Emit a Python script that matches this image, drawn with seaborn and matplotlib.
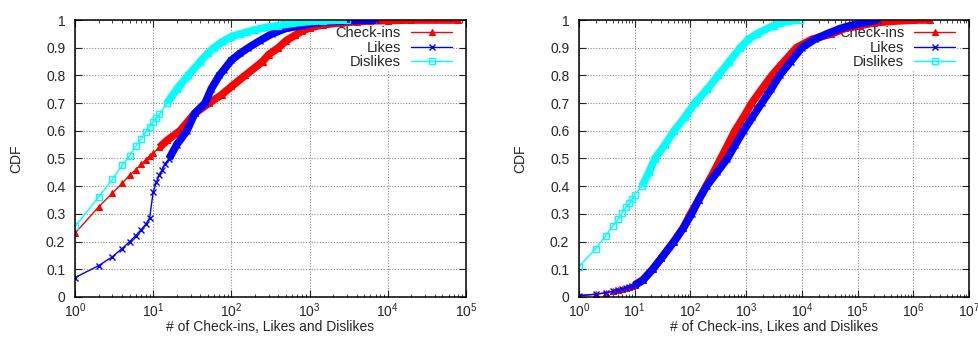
import numpy as np
import pandas as pd
import seaborn as sns
import matplotlib
matplotlib.use("Agg")
import matplotlib.pyplot as plt
from matplotlib.ticker import LogLocator, FuncFormatter, MultipleLocator, NullFormatter
from matplotlib.lines import Line2D

# valores (CDF por numero de check-ins / likes / dislikes)
series_names = ["Check-ins", "Likes", "Dislikes"]

# painel da esquerda
left_checkins_x = [1, 2, 3, 4, 5, 6, 7, 8, 9, 10, 12, 15, 22, 34, 52, 75, 100, 150, 250, 300, 400, 500, 650,
                   800, 1000, 1500, 2500, 4000, 6000, 10000, 20000, 80000]
left_checkins_y = [0.23, 0.325, 0.375, 0.41, 0.44, 0.46, 0.48, 0.495, 0.51, 0.52, 0.54, 0.565, 0.60, 0.663, 0.70,
                   0.73, 0.76, 0.80, 0.85, 0.875, 0.90, 0.925, 0.945, 0.96, 0.972, 0.983, 0.99, 0.994, 0.997,
                   0.998, 1.0, 1.0]
left_likes_x = [1, 2, 3, 4, 5, 6, 7, 8, 9, 10, 11, 12, 13, 14, 16, 20, 27, 34, 46, 55, 70, 80, 100, 130, 165,
                230, 330, 500, 800, 1200, 2000, 3500, 7000]
left_likes_y = [0.07, 0.113, 0.145, 0.175, 0.20, 0.222, 0.243, 0.262, 0.285, 0.38, 0.415, 0.44, 0.46, 0.48, 0.50,
                0.55, 0.60, 0.663, 0.70, 0.75, 0.80, 0.82, 0.855, 0.88, 0.90, 0.925, 0.95, 0.97, 0.98, 0.99,
                0.995, 0.998, 1.0]
left_dislikes_x = [1, 2, 3, 4, 5, 6, 7, 8, 9, 10, 11, 12, 15, 20, 28, 40, 50, 60, 75, 100, 130, 160, 200, 280,
                   400, 600, 1000, 1500, 3000]
left_dislikes_y = [0.255, 0.36, 0.425, 0.475, 0.51, 0.545, 0.57, 0.595, 0.615, 0.632, 0.648, 0.66, 0.70, 0.75,
                   0.80, 0.85, 0.88, 0.90, 0.92, 0.94, 0.95, 0.957, 0.965, 0.973, 0.98, 0.988, 0.995, 0.997, 1.0]

# painel da direita
right_checkins_x = [1, 2, 3, 4, 5, 6, 7, 8, 9, 10, 14, 21, 30, 50, 75, 100, 140, 190, 260, 350, 470, 630, 900,
                    1260, 1900, 2900, 4800, 8000, 15000, 34000, 60000, 110000, 200000, 400000, 1000000, 2000000]
right_checkins_y = [0.005, 0.01, 0.016, 0.021, 0.026, 0.03, 0.034, 0.037, 0.041, 0.044, 0.062, 0.10, 0.14, 0.20,
                    0.25, 0.30, 0.35, 0.40, 0.45, 0.50, 0.55, 0.60, 0.65, 0.70, 0.75, 0.80, 0.85, 0.90, 0.93,
                    0.95, 0.97, 0.98, 0.99, 0.995, 1.0, 1.0]
right_likes_x = [1, 2, 3, 4, 5, 6, 7, 8, 9, 10, 14, 21, 30, 51, 75, 105, 140, 195, 300, 460, 640, 900, 1300,
                 1900, 2800, 4000, 6300, 10000, 17000, 28000, 50000, 74000, 130000, 230000]
right_likes_y = [0.005, 0.01, 0.015, 0.02, 0.025, 0.029, 0.033, 0.036, 0.039, 0.042, 0.06, 0.10, 0.14, 0.20,
                 0.25, 0.30, 0.35, 0.40, 0.45, 0.50, 0.55, 0.60, 0.65, 0.70, 0.75, 0.80, 0.85, 0.90, 0.93,
                 0.95, 0.97, 0.98, 0.99, 1.0]
right_dislikes_x = [1, 2, 3, 4, 5, 6, 7, 8, 9, 10, 13.5, 18, 23, 35, 51, 80, 120, 200, 315, 500, 780, 1100,
                    1550, 3100, 5500, 9300]
right_dislikes_y = [0.11, 0.175, 0.22, 0.255, 0.28, 0.305, 0.325, 0.34, 0.355, 0.37, 0.40, 0.45, 0.50, 0.55,
                    0.60, 0.65, 0.70, 0.75, 0.80, 0.85, 0.90, 0.93, 0.95, 0.98, 0.995, 1.0]

left_xmax = 1e5
right_xmax = 1e7


def monta_df(cx, cy, lx, ly, dx, dy):
    partes = []
    for nome, xs, ys in zip(series_names, [cx, lx, dx], [cy, ly, dy]):
        partes.append(pd.DataFrame({"count": xs, "cdf": ys, "serie": nome}))
    return pd.concat(partes, ignore_index=True)


df_left = monta_df(left_checkins_x, left_checkins_y, left_likes_x, left_likes_y,
                   left_dislikes_x, left_dislikes_y)
df_right = monta_df(right_checkins_x, right_checkins_y, right_likes_x, right_likes_y,
                    right_dislikes_x, right_dislikes_y)

estilos = {
    "Check-ins": dict(color="#ff0000", marker="^", mfc="#ff0000", mew=0.8),
    "Likes": dict(color="#0000ff", marker="x", mfc="#0000ff", mew=1.0),
    "Dislikes": dict(color="#00ffff", marker="s", mfc="none", mew=1.0),
}
# a partir deste x os marcadores do original viram uma faixa grossa
limiar_faixa = {
    "left": {"Check-ins": 11, "Likes": 16, "Dislikes": 13},
    "right": {"Check-ins": 10, "Likes": 10, "Dislikes": 13.5},
}

sns.set_style("ticks")
plt.rcParams["font.family"] = ["Liberation Sans", "DejaVu Sans"]
plt.rcParams["mathtext.fontset"] = "custom"
plt.rcParams["mathtext.rm"] = "Liberation Sans"
plt.rcParams["mathtext.it"] = "Liberation Sans:italic"
plt.rcParams["font.size"] = 10

fig = plt.figure(figsize=(9.79, 3.42), dpi=100)
ax_l = fig.add_axes([75 / 979, 1 - 297 / 342, 391 / 979, 277 / 342])
ax_r = fig.add_axes([579 / 979, 1 - 297 / 342, 390 / 979, 277 / 342])


def desenha(ax, df, lado, xmax):
    for nome in series_names:
        sub = df[df["serie"] == nome]
        st = estilos[nome]
        sns.lineplot(data=sub, x="count", y="cdf", ax=ax, estimator=None, sort=True,
                     color=st["color"], lw=1.0, marker=st["marker"], markersize=5,
                     markerfacecolor=st["mfc"], markeredgecolor=st["color"],
                     markeredgewidth=st["mew"], legend=False)
        faixa = sub[sub["count"] >= limiar_faixa[lado][nome]]
        sns.lineplot(data=faixa, x="count", y="cdf", ax=ax, estimator=None, sort=True,
                     color=st["color"], lw=5.5, legend=False,
                     solid_capstyle="butt", solid_joinstyle="round")

    ax.set_xscale("log")
    ax.set_xlim(1, xmax)
    ax.set_ylim(0, 1)
    ax.xaxis.set_major_locator(LogLocator(base=10, numticks=12))
    ax.xaxis.set_minor_locator(LogLocator(base=10, subs=np.arange(2, 10), numticks=12))
    ax.xaxis.set_minor_formatter(NullFormatter())
    ax.yaxis.set_major_locator(MultipleLocator(0.1))
    ax.yaxis.set_major_formatter(FuncFormatter(lambda v, p: "%g" % round(v, 1)))
    ax.tick_params(which="both", direction="in", top=True, right=True, labelsize=10)
    ax.tick_params(axis="x", pad=3)
    ax.tick_params(axis="y", pad=7)
    ax.tick_params(which="major", length=5, width=0.8)
    ax.tick_params(which="minor", length=2.5, width=0.6)
    ax.grid(True, which="major", ls=(0, (1, 1.5)), color="#8c8c8c", lw=0.8)
    ax.set_axisbelow(True)
    for sp in ax.spines.values():
        sp.set_linewidth(1.1)
        sp.set_color("black")
    ax.set_xlabel("# of Check-ins, Likes and Dislikes", fontsize=10, labelpad=0)
    ax.set_ylabel("CDF", fontsize=10, labelpad=16)

    handles = []
    for nome in series_names:
        st = estilos[nome]
        handles.append(Line2D([0], [0], color=st["color"], lw=1.0, marker=st["marker"],
                              markersize=5, markerfacecolor=st["mfc"],
                              markeredgecolor=st["color"], markeredgewidth=st["mew"]))
    leg = ax.legend(handles, series_names, loc="upper right", bbox_to_anchor=(0.968, 0.984),
                    markerfirst=False, frameon=True, fancybox=False, framealpha=1,
                    edgecolor="none", facecolor="white", fontsize=10.5, handlelength=2.8,
                    handletextpad=0.7, labelspacing=0.05, borderpad=0.1, borderaxespad=0.0)
    leg.set_zorder(1.5)
    for t in leg.get_texts():
        t.set_ha("right")


desenha(ax_l, df_left, "left", left_xmax)
desenha(ax_r, df_right, "right", right_xmax)

fig.savefig("out.png", dpi=100)
